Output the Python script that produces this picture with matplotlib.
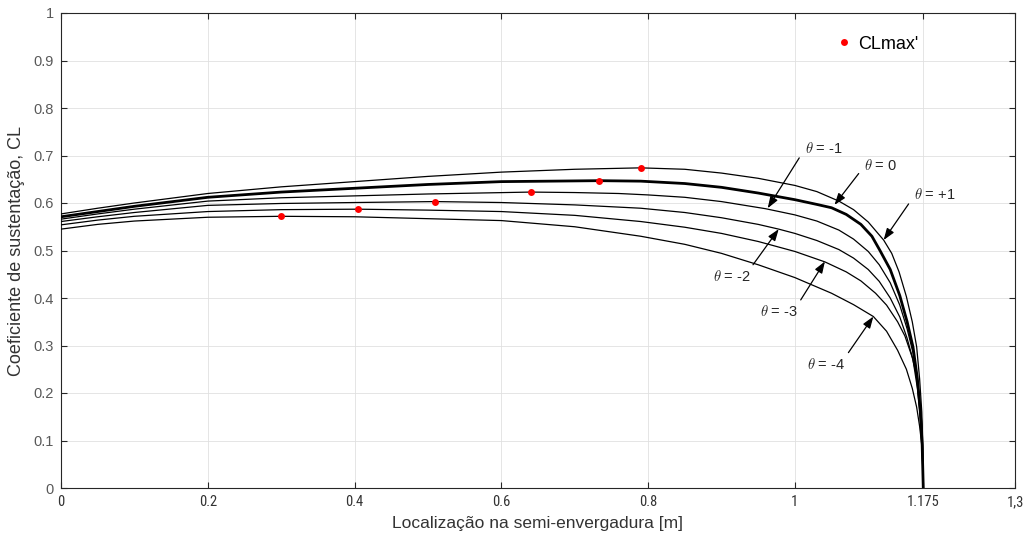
import matplotlib
matplotlib.use("Agg")
import matplotlib.pyplot as plt
from matplotlib import font_manager
from matplotlib.font_manager import FontProperties

plt.rcParams.update({
    "font.family": ["Liberation Sans", "DejaVu Sans"],
    "mathtext.fontset": "cm",
    "axes.linewidth": 0.8,
})

# spanwise CL curves (x in m, CL)
x_p1 = [0.0, 0.05, 0.1, 0.2, 0.3, 0.4, 0.5, 0.6, 0.7, 0.79, 0.85, 0.9, 0.95, 1.0, 1.03, 1.06, 1.08, 1.1, 1.121, 1.132, 1.142, 1.152, 1.16, 1.166, 1.17, 1.173, 1.1745, 1.175]
cl_p1 = [0.577, 0.589, 0.600, 0.620, 0.634, 0.645, 0.656, 0.665, 0.671, 0.674, 0.671, 0.663, 0.652, 0.637, 0.624, 0.604, 0.586, 0.560, 0.522, 0.494, 0.455, 0.403, 0.35, 0.297, 0.23, 0.16, 0.085, 0.0]

x_0 = [0.0, 0.05, 0.1, 0.2, 0.3, 0.4, 0.5, 0.6, 0.733, 0.79, 0.85, 0.9, 0.95, 1.0, 1.03, 1.05, 1.07, 1.09, 1.105, 1.116, 1.13, 1.143, 1.153, 1.161, 1.167, 1.171, 1.1735, 1.175]
cl_0 = [0.571, 0.582, 0.593, 0.612, 0.623, 0.631, 0.639, 0.645, 0.647, 0.646, 0.641, 0.633, 0.621, 0.607, 0.597, 0.590, 0.576, 0.555, 0.530, 0.500, 0.460, 0.405, 0.35, 0.297, 0.23, 0.16, 0.09, 0.0]

x_m1 = [0.0, 0.05, 0.1, 0.2, 0.3, 0.4, 0.5, 0.64, 0.7, 0.76, 0.8, 0.85, 0.9, 0.96, 1.0, 1.03, 1.06, 1.08, 1.1, 1.115, 1.13, 1.143, 1.153, 1.161, 1.167, 1.171, 1.1735, 1.175]
cl_m1 = [0.566, 0.577, 0.587, 0.604, 0.611, 0.615, 0.619, 0.623, 0.622, 0.620, 0.617, 0.612, 0.603, 0.588, 0.575, 0.562, 0.543, 0.524, 0.498, 0.470, 0.432, 0.385, 0.335, 0.285, 0.22, 0.155, 0.085, 0.0]

x_m2 = [0.0, 0.05, 0.1, 0.2, 0.3, 0.4, 0.51, 0.6, 0.7, 0.79, 0.85, 0.9, 0.95, 0.978, 1.0, 1.03, 1.06, 1.08, 1.1, 1.115, 1.13, 1.143, 1.153, 1.161, 1.167, 1.171, 1.1735, 1.175]
cl_m2 = [0.561, 0.571, 0.580, 0.595, 0.599, 0.601, 0.603, 0.601, 0.596, 0.589, 0.580, 0.569, 0.555, 0.545, 0.536, 0.521, 0.502, 0.484, 0.460, 0.435, 0.400, 0.360, 0.315, 0.27, 0.21, 0.15, 0.08, 0.0]

x_m3 = [0.0, 0.05, 0.1, 0.2, 0.3, 0.405, 0.5, 0.6, 0.7, 0.79, 0.85, 0.9, 0.95, 1.0, 1.041, 1.07, 1.09, 1.11, 1.125, 1.14, 1.15, 1.16, 1.166, 1.17, 1.173, 1.1745, 1.175]
cl_m3 = [0.554, 0.564, 0.572, 0.582, 0.586, 0.587, 0.585, 0.582, 0.574, 0.561, 0.549, 0.536, 0.519, 0.498, 0.476, 0.455, 0.436, 0.41, 0.385, 0.35, 0.32, 0.275, 0.235, 0.19, 0.135, 0.07, 0.0]

x_m4 = [0.0, 0.05, 0.1, 0.2, 0.3, 0.4, 0.5, 0.6, 0.7, 0.79, 0.85, 0.9, 0.95, 1.0, 1.05, 1.08, 1.107, 1.125, 1.14, 1.152, 1.16, 1.166, 1.17, 1.173, 1.1745, 1.175]
cl_m4 = [0.545, 0.555, 0.562, 0.570, 0.572, 0.571, 0.567, 0.563, 0.550, 0.530, 0.513, 0.494, 0.470, 0.443, 0.410, 0.386, 0.361, 0.33, 0.29, 0.25, 0.21, 0.17, 0.13, 0.09, 0.045, 0.0]

# CLmax' markers
clmax_x = [0.3, 0.405, 0.51, 0.64, 0.733, 0.79]
clmax_y = [0.572, 0.587, 0.603, 0.623, 0.647, 0.674]

x_ticks = [0, 0.2, 0.4, 0.6, 0.8, 1.0, 1.175, 1.3]
x_labels = ["0", "0.2", "0.4", "0.6", "0.8", "1", "1.175", "1,3"]
y_ticks = [0, 0.1, 0.2, 0.3, 0.4, 0.5, 0.6, 0.7, 0.8, 0.9, 1.0]
y_labels = ["0", "0.1", "0.2", "0.3", "0.4", "0.5", "0.6", "0.7", "0.8", "0.9", "1"]


def narrow_font(size):
    # condensed face for the x tick labels, whichever is installed
    prefs = ["LiberationSansNarrow-Regular", "RobotoCondensed-Regular",
             "DejaVuSansCondensed.ttf"]
    files = [f.fname for f in font_manager.fontManager.ttflist]
    for p in prefs:
        for fn in files:
            if p in fn:
                return FontProperties(fname=fn, size=size)
    return FontProperties(family="Liberation Sans", size=size)


fig = plt.figure(figsize=(10.32, 5.40), dpi=100)
ax = fig.add_axes([61 / 1032, 1 - 488 / 540, 954 / 1032, 475 / 540])

thin = dict(color="black", lw=0.9, zorder=3)
ax.plot(x_p1, cl_p1, **thin)
ax.plot(x_m1, cl_m1, **thin)
ax.plot(x_m2, cl_m2, **thin)
ax.plot(x_m3, cl_m3, **thin)
ax.plot(x_m4, cl_m4, **thin)
ax.plot(x_0, cl_0, color="black", lw=2.0, zorder=4)
ax.plot(clmax_x, clmax_y, "o", color="red", ms=5, mec="none", zorder=5,
        label="CLmax'")

ax.set_xlim(0, 1.3)
ax.set_ylim(0, 1)
ax.set_xticks(x_ticks)
ax.set_xticklabels(x_labels, fontproperties=narrow_font(10.5), color="0.2")
ax.set_yticks(y_ticks)
ax.set_yticklabels(y_labels, fontsize=10.5, color="0.35")
ax.tick_params(direction="in", length=4, width=0.8, top=True, right=True,
               color="0.15", pad=5)
ax.grid(True, color="0.88", lw=0.6)
ax.set_axisbelow(True)
for s in ax.spines.values():
    s.set_color("0.15")

ax.set_xlabel("Localização na semi-envergadura [m]", fontsize=12.5, color="0.2",
              labelpad=5)
ax.set_ylabel("Coeficiente de sustentação, CL", fontsize=13, color="0.2",
              labelpad=6)

ax.legend(loc="upper right", bbox_to_anchor=(0.899, 0.952), frameon=False,
          fontsize=13, handletextpad=0.3, handlelength=1.0,
          borderpad=0, borderaxespad=0)

arrow = dict(arrowstyle="-|>,head_length=0.7,head_width=0.25", color="black",
             lw=0.9, shrinkA=0, shrinkB=0)
notes = [
    (r"$\theta$ = -1", (1.040, 0.714), (1.006, 0.695), (0.963, 0.589)),
    (r"$\theta$ = 0", (1.117, 0.680), (1.087, 0.662), (1.054, 0.596)),
    (r"$\theta$ = +1", (1.191, 0.617), (1.155, 0.598), (1.121, 0.522)),
    (r"$\theta$ = -2", (0.914, 0.445), (0.943, 0.470), (0.978, 0.545)),
    (r"$\theta$ = -3", (0.978, 0.371), (1.008, 0.396), (1.041, 0.477)),
    (r"$\theta$ = -4", (1.043, 0.259), (1.073, 0.285), (1.107, 0.361)),
]
for txt, tpos, a0, a1 in notes:
    ax.text(tpos[0], tpos[1], txt, fontsize=10.5, color="0.15",
            ha="center", va="center", zorder=6)
    ax.annotate("", xy=a1, xytext=a0, arrowprops=arrow, zorder=6)

fig.savefig("out.png", dpi=100)
